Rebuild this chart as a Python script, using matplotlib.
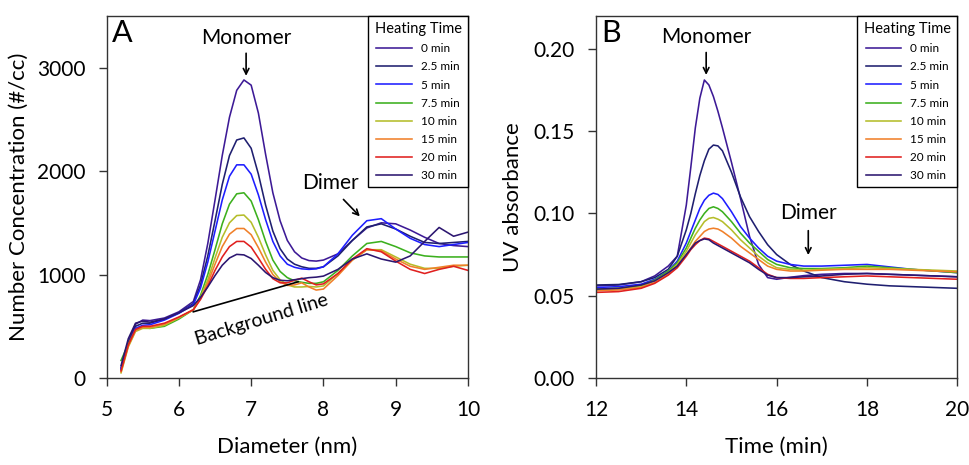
import numpy as np
import matplotlib
matplotlib.use("Agg")
import matplotlib.pyplot as plt

plt.rcParams['font.family'] = ['Lato', 'DejaVu Sans']

# ---- data ----
labels = ["0 min", "2.5 min", "5 min", "7.5 min", "10 min", "15 min", "20 min", "30 min"]
colors = ["#3d1a96", "#1f1f70", "#1e1eff", "#3cb01e", "#b5bd2a", "#f0802a", "#e0201f", "#2c1670"]

# panel A : number concentration vs diameter
diam = [5.2, 5.3, 5.4, 5.5, 5.6, 5.8, 6.0, 6.2, 6.3, 6.4, 6.5, 6.6, 6.7, 6.8, 6.9, 7.0,
        7.1, 7.2, 7.3, 7.4, 7.5, 7.6, 7.7, 7.8, 7.9, 8.0, 8.2, 8.4, 8.6, 8.8, 9.0, 9.2,
        9.4, 9.6, 9.8, 10.0]
nc_0 = [100, 350, 520, 560, 555, 580, 640, 740, 950, 1300, 1720, 2150, 2520, 2780, 2880, 2830,
        2560, 2160, 1790, 1520, 1330, 1220, 1160, 1135, 1130, 1140, 1200, 1330, 1450, 1500, 1490, 1430,
        1360, 1300, 1280, 1270]
nc_25 = [80, 330, 500, 530, 530, 570, 630, 720, 900, 1180, 1520, 1870, 2150, 2300, 2320, 2220,
         1970, 1670, 1420, 1250, 1150, 1100, 1075, 1060, 1060, 1075, 1180, 1330, 1460, 1490, 1440, 1370,
         1310, 1300, 1310, 1320]
nc_5 = [90, 320, 480, 510, 515, 560, 625, 710, 870, 1120, 1420, 1720, 1950, 2060, 2060, 1970,
        1770, 1530, 1320, 1180, 1100, 1070, 1055, 1050, 1055, 1075, 1200, 1380, 1520, 1540, 1440, 1350,
        1290, 1270, 1290, 1310]
nc_75 = [170, 330, 460, 490, 480, 500, 570, 660, 800, 1000, 1240, 1490, 1680, 1780, 1790, 1710,
         1530, 1320, 1140, 1030, 970, 940, 925, 915, 915, 930, 1040, 1180, 1300, 1320, 1270, 1210,
         1180, 1170, 1170, 1170]
nc_10 = [50, 300, 450, 480, 480, 510, 580, 660, 780, 950, 1160, 1360, 1500, 1570, 1575, 1505,
         1360, 1190, 1040, 950, 900, 880, 880, 885, 880, 890, 1010, 1140, 1240, 1240, 1170, 1100,
         1060, 1060, 1080, 1090]
nc_15 = [60, 310, 460, 490, 490, 520, 585, 660, 770, 920, 1100, 1270, 1390, 1445, 1445, 1385,
         1260, 1120, 1000, 930, 895, 900, 920, 880, 850, 860, 990, 1140, 1240, 1230, 1150, 1080,
         1050, 1070, 1090, 1090]
nc_20 = [70, 320, 470, 500, 500, 530, 590, 660, 760, 890, 1040, 1170, 1270, 1320, 1320, 1265,
         1160, 1050, 960, 920, 920, 945, 965, 930, 900, 910, 1010, 1150, 1250, 1220, 1130, 1050,
         1010, 1050, 1080, 1040]
nc_30 = [120, 380, 530, 550, 540, 570, 630, 700, 780, 880, 990, 1090, 1160, 1195, 1190, 1155,
         1090, 1020, 970, 945, 940, 950, 960, 970, 975, 985, 1050, 1150, 1200, 1150, 1120, 1180,
         1320, 1455, 1370, 1410]
nc_all = [nc_0, nc_25, nc_5, nc_75, nc_10, nc_15, nc_20, nc_30]
bg_x = [6.2, 7.65]
bg_y = [640, 930]

# panel B : UV absorbance vs time
t_min = [12.0, 12.5, 13.0, 13.3, 13.6, 13.8, 14.0, 14.1, 14.2, 14.3, 14.4, 14.5, 14.6, 14.7, 14.8,
         15.0, 15.2, 15.4, 15.6, 15.8, 16.0, 16.3, 16.6, 17.0, 17.5, 18.0, 18.5, 19.0, 19.5, 20.0]
uv_0 = [0.0560, 0.0565, 0.0585, 0.0620, 0.0680, 0.0740, 0.105, 0.128, 0.152, 0.170, 0.181, 0.178, 0.171, 0.162, 0.152,
        0.131, 0.109, 0.086, 0.069, 0.061, 0.0600, 0.0612, 0.0622, 0.0630, 0.0635, 0.0635, 0.0630, 0.0625, 0.0620, 0.0615]
uv_25 = [0.0565, 0.0568, 0.0585, 0.0610, 0.0660, 0.0740, 0.090, 0.100, 0.112, 0.123, 0.132, 0.139, 0.1415, 0.1410, 0.138,
         0.125, 0.110, 0.098, 0.089, 0.081, 0.075, 0.069, 0.065, 0.061, 0.0585, 0.0570, 0.0560, 0.0555, 0.0550, 0.0545]
uv_5 = [0.0550, 0.0555, 0.0570, 0.0600, 0.0650, 0.0710, 0.082, 0.089, 0.096, 0.103, 0.108, 0.111, 0.1123, 0.1115, 0.109,
        0.101, 0.092, 0.085, 0.079, 0.074, 0.071, 0.069, 0.068, 0.068, 0.0685, 0.0690, 0.0675, 0.0660, 0.0650, 0.0640]
uv_75 = [0.0540, 0.0545, 0.0560, 0.0595, 0.0650, 0.0700, 0.079, 0.085, 0.091, 0.096, 0.100, 0.103, 0.104, 0.103, 0.101,
         0.095, 0.088, 0.082, 0.077, 0.072, 0.069, 0.067, 0.0665, 0.0665, 0.0670, 0.0680, 0.0670, 0.0660, 0.0650, 0.0640]
uv_10 = [0.0535, 0.0540, 0.0555, 0.0590, 0.0640, 0.0690, 0.077, 0.082, 0.087, 0.091, 0.095, 0.097, 0.0975, 0.0965, 0.095,
         0.090, 0.084, 0.079, 0.074, 0.070, 0.067, 0.066, 0.0655, 0.0660, 0.0665, 0.0670, 0.0665, 0.0660, 0.0655, 0.0650]
uv_15 = [0.0530, 0.0535, 0.0550, 0.0580, 0.0630, 0.0680, 0.075, 0.079, 0.083, 0.086, 0.089, 0.0905, 0.091, 0.0905, 0.089,
         0.085, 0.080, 0.076, 0.072, 0.068, 0.066, 0.065, 0.065, 0.0655, 0.0660, 0.0660, 0.0660, 0.0655, 0.0650, 0.0645]
uv_20 = [0.0520, 0.0525, 0.0545, 0.0575, 0.0625, 0.0670, 0.074, 0.078, 0.081, 0.0835, 0.085, 0.0845, 0.083, 0.0815, 0.080,
         0.077, 0.074, 0.071, 0.067, 0.063, 0.061, 0.0605, 0.0605, 0.0610, 0.0615, 0.0620, 0.0615, 0.0610, 0.0605, 0.0600]
uv_30 = [0.0540, 0.0545, 0.0565, 0.0590, 0.0640, 0.0680, 0.075, 0.0785, 0.082, 0.0835, 0.0845, 0.0840, 0.082, 0.0805, 0.079,
         0.076, 0.073, 0.070, 0.066, 0.0625, 0.061, 0.061, 0.0615, 0.0620, 0.0630, 0.0635, 0.0630, 0.0625, 0.0620, 0.0615]
uv_all = [uv_0, uv_25, uv_5, uv_75, uv_10, uv_15, uv_20, uv_30]


def style_axes(ax):
    for s in ax.spines.values():
        s.set_linewidth(1.0)
        s.set_color("#333333")
    ax.tick_params(axis='both', direction='out', length=6, width=1, labelsize=15,
                   top=False, right=False, color="#333333")
    ax.tick_params(axis='x', pad=10)
    ax.tick_params(axis='y', pad=9)


def add_legend(ax):
    leg = ax.legend(title="Heating Time", loc="upper right", borderaxespad=0, fontsize=8.5,
                    title_fontsize=10.5, handlelength=3.0, labelspacing=0.6, fancybox=False,
                    edgecolor="black", framealpha=1, borderpad=0.55)
    leg.get_frame().set_linewidth(1.0)


fig = plt.figure(figsize=(9.69, 4.65), dpi=100)
axA = fig.add_axes([0.110, 0.187, 0.373, 0.779])
axB = fig.add_axes([0.615, 0.187, 0.373, 0.779])

# ---- panel A ----
for y, c, lab in zip(nc_all, colors, labels):
    axA.plot(diam, y, color=c, lw=1.15, label=lab)
axA.plot(bg_x, bg_y, color="black", lw=1.2)
axA.set_xlim(5, 10)
axA.set_ylim(0, 3500)
axA.set_xticks([5, 6, 7, 8, 9, 10])
axA.set_yticks([0, 1000, 2000, 3000])
axA.set_xlabel("Diameter (nm)", fontsize=16, labelpad=12)
axA.set_ylabel("Number Concentration (#/cc)", fontsize=16, labelpad=6)
style_axes(axA)
add_legend(axA)
axA.text(0.015, 0.99, "A", transform=axA.transAxes, fontsize=22, va="top", ha="left")
axA.text(6.93, 3290, "Monomer", fontsize=15, ha="center", va="center")
axA.annotate("", xy=(6.93, 2893), xytext=(6.93, 3165),
             arrowprops=dict(arrowstyle="->", lw=1.2, color="black"))
axA.text(8.09, 1880, "Dimer", fontsize=15, ha="center", va="center")
axA.annotate("", xy=(8.53, 1543), xytext=(8.25, 1745),
             arrowprops=dict(arrowstyle="->", lw=1.2, color="black"))
axA.text(7.15, 560, "Background line", fontsize=14, ha="center", va="center", rotation=17)

# ---- panel B ----
for y, c, lab in zip(uv_all, colors, labels):
    axB.plot(t_min, y, color=c, lw=1.15, label=lab)
axB.set_xlim(12, 20)
axB.set_ylim(0, 0.22)
axB.set_xticks([12, 14, 16, 18, 20])
axB.set_yticks([0.00, 0.05, 0.10, 0.15, 0.20])
axB.set_yticklabels(["0.00", "0.05", "0.10", "0.15", "0.20"])
axB.set_xlabel("Time (min)", fontsize=16, labelpad=12)
axB.set_ylabel("UV absorbance", fontsize=16, labelpad=8)
style_axes(axB)
add_legend(axB)
axB.text(0.015, 0.99, "B", transform=axB.transAxes, fontsize=22, va="top", ha="left")
axB.text(14.44, 0.2073, "Monomer", fontsize=15, ha="center", va="center")
axB.annotate("", xy=(14.44, 0.1824), xytext=(14.44, 0.1994),
             arrowprops=dict(arrowstyle="->", lw=1.2, color="black"))
axB.text(16.70, 0.1003, "Dimer", fontsize=15, ha="center", va="center")
axB.annotate("", xy=(16.70, 0.073), xytext=(16.70, 0.0912),
             arrowprops=dict(arrowstyle="->", lw=1.2, color="black"))

fig.savefig("out.png", dpi=100)
